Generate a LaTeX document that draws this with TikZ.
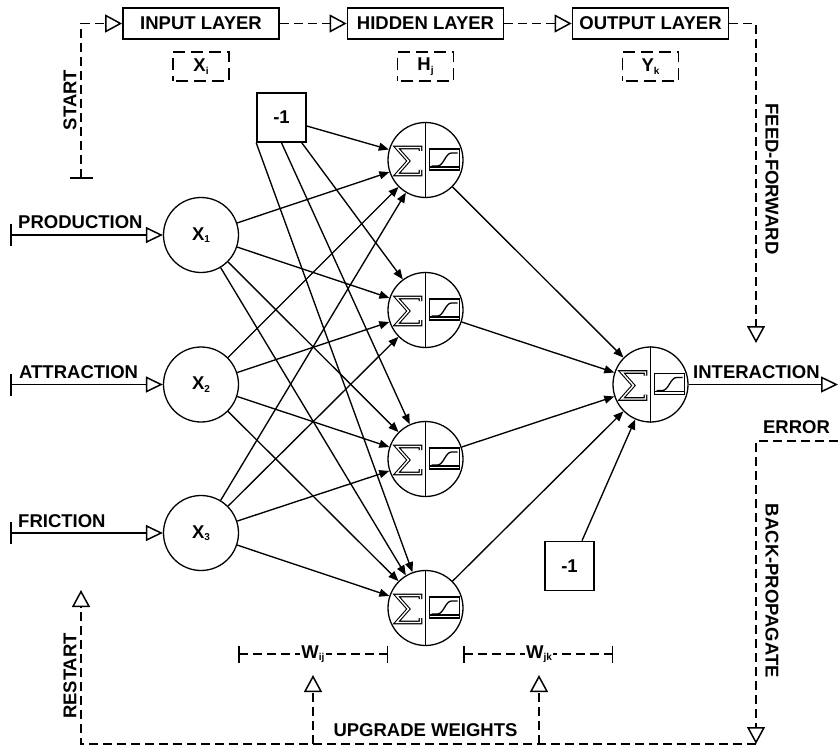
\documentclass[tikz,border=0pt]{standalone}
\usepackage{fontspec}
\setmainfont{Liberation Sans}
\usetikzlibrary{arrows.meta,calc}
\newcommand{\mysub}[1]{\raisebox{-2.5pt}{\fontsize{10}{10}\selectfont #1}}
\tikzset{
  thinl/.style={line width=1.3pt},
  neuron/.style={circle, draw, line width=1.3pt, minimum size=75pt, inner sep=0pt},
  layerbox/.style={draw, line width=1.8pt, minimum width=156pt, minimum height=31pt, inner sep=0pt},
  dbox/.style={draw, line width=1.6pt, dash pattern=on 12pt off 6pt, dash phase=-3pt, minimum width=56pt, minimum height=29pt, inner sep=0pt},
  biasbox/.style={draw, line width=1.6pt, minimum width=49pt, minimum height=49pt, inner sep=0pt},
  conn/.style={line width=1.35pt, -{Triangle[length=10pt,width=8pt]}},
  inarrow/.style={line width=1.5pt, {Bar[width=22pt]}-{Triangle[open,length=17pt,width=16pt,fill=white]}},
  flow/.style={line width=1.5pt, dash pattern=on 9pt off 5pt, -{Triangle[open,length=17pt,width=18pt,fill=white]}},
  dline/.style={line width=1.5pt, dash pattern=on 9pt off 5pt},
  lbl/.style={inner sep=0pt},
}
\newcommand{\hneuron}[3]{%
  \node[neuron] (#1) at (#2,#3) {};
  \draw[thinl] (#1.north) -- (#1.south);
  \begin{scope}[shift={(#2,#3)}]
    \draw[line width=3.6pt, line join=miter] (-5,-9) -- (-5,-12.5) -- (-29,-12.5) -- (-17,1) -- (-29,14.5) -- (-5,14.5) -- (-5,10);
    \draw[white, line width=1.4pt, line join=miter] (-5,-9) -- (-5,-12.5) -- (-29,-12.5) -- (-17,1) -- (-29,14.5) -- (-5,14.5) -- (-5,10);
    \draw[thinl] (4,-11) rectangle (34,10);
    \draw[thinl] (4,7) -- (34,7);
    \draw[thinl] (6,6) -- (12,6) .. controls (18,6) and (20,-7) .. (26,-7) -- (32,-7);
  \end{scope}}
\begin{document}
\begin{tikzpicture}[x=1pt,y=-1pt, font=\fontsize{18.5}{20}\selectfont\bfseries]
\useasboundingbox[fill=white] (0,0) rectangle (838,746);

% layer boxes
\node[layerbox] (inL) at (201,23.5) {INPUT LAYER};
\node[layerbox] (hidL) at (425.5,23.5) {HIDDEN LAYER};
\node[layerbox] (outL) at (650.5,23.5) {OUTPUT LAYER};
\node[dbox] (xi) at (201,66.5) {X\mysub{i}};
\node[dbox] (hj) at (425.5,66.5) {H\mysub{j}};
\node[dbox] (yk) at (650.5,66.5) {Y\mysub{k}};

% feed-forward flow
\coordinate (st) at (81,179);
\draw[flow, {Bar[width=23pt]}-{Triangle[open,length=17pt,width=18pt,fill=white]}] (st) |- (inL.west);
\draw[flow] (inL) -- (hidL);
\draw[flow] (hidL) -- (outL);
\coordinate (ffc) at (756,343);
\draw[flow] (outL.east) -| (ffc);
\node[lbl, rotate=90] (startlbl) at (70,100) {START};
\node[lbl, rotate=-90] (fflbl) at (772,179) {FEED-FORWARD};

% input neurons
\node[neuron] (X1) at (201,235) {X\mysub{1}};
\node[neuron] (X2) at (201,384.5) {X\mysub{2}};
\node[neuron] (X3) at (201,533) {X\mysub{3}};

% hidden neurons
\hneuron{H1}{425.5}{160}
\hneuron{H2}{425.5}{310}
\hneuron{H3}{425.5}{459}
\hneuron{H4}{425.5}{608}
\hneuron{O}{650.5}{384.5}

% bias boxes
\node[biasbox] (b1) at (281.5,117.5) {-1};
\node[biasbox] (b2) at (569.5,566) {-1};

% inputs
\coordinate (p0) at (10,235);
\coordinate (a0) at (10,384.5);
\coordinate (f0) at (10,533);
\draw[inarrow] (p0) -- (X1);
\draw[inarrow] (a0) -- (X2);
\draw[inarrow] (f0) -- (X3);
\node[lbl, anchor=west] (plbl) at (18,222) {PRODUCTION};
\node[lbl, anchor=west] (albl) at (19,372) {ATTRACTION};
\node[lbl, anchor=west] (flbl) at (18,521) {FRICTION};

% input -> hidden
\foreach \i in {X1,X2,X3}{
  \foreach \j in {H1,H2,H3,H4}{
    \draw[conn] (\i) -- (\j);
  }
}
% bias -> hidden
\draw[conn] ($(b1.east)+(0,8.5)$) -- (H1);
\draw[conn] ($(b1.south east)+(-5,0)$) -- (H2);
\draw[conn] (b1.south) -- (H3);
\draw[conn] (b1.south west) -- (H4);

% hidden -> output
\foreach \j in {H1,H2,H3,H4}{
  \draw[conn] (\j) -- (O);
}
\draw[conn] ($(b2.north)+(12.5,0)$) -- (O);

% output
\coordinate (oend) at (838,384.5);
\draw[line width=1.5pt, -{Triangle[open,length=17pt,width=16pt,fill=white]}] (O) -- (oend);
\node[lbl, anchor=west] (intlbl) at (693,372) {INTERACTION};

% back-propagation
\node[lbl] (errlbl) at (796.5,427) {ERROR};
\coordinate (e0) at (838,441);
\coordinate (e1) at (756,744);
\draw[flow] (e0) -| (e1);
\node[lbl, rotate=-90] (bplbl) at (772,591) {BACK-PROPAGATE};
\coordinate (r0) at (81,590);
\draw[flow] (e1) -| (r0);
\node[lbl, rotate=90] (rslbl) at (70,676) {RESTART};
\node[lbl] (uwlbl) at (425.5,730) {UPGRADE WEIGHTS};
\coordinate (w0) at (313,744);
\coordinate (w1) at (313,675);
\coordinate (v0) at (539,744);
\coordinate (v1) at (539,675);
\draw[flow] (w0) -- (w1);
\draw[flow] (v0) -- (v1);

% weight brackets
\coordinate (wa) at (238,654);
\coordinate (wb) at (388,654);
\coordinate (va) at (463,654);
\coordinate (vb) at (613,654);
\draw[dline, {Bar[width=17pt]}-{Bar[width=17pt]}] (wa) -- (wb);
\draw[dline, {Bar[width=17pt]}-{Bar[width=17pt]}] (va) -- (vb);
\node[fill=white, inner sep=1.5pt] (wij) at (313,654) {W\mysub{ij}};
\node[fill=white, inner sep=1.5pt] (wjk) at (539,654) {W\mysub{jk}};
\end{tikzpicture}
\end{document}
